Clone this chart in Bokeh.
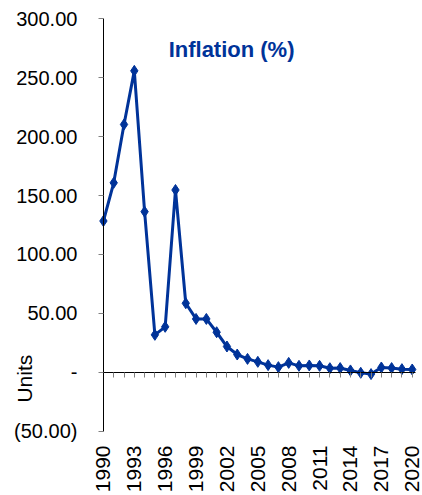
import math
from bokeh.plotting import figure
from bokeh.models import (LinearAxis, FixedTicker, NumeralTickFormatter, Label, Range1d)
from bokeh.embed import file_html
from bokeh.resources import INLINE

years = list(range(1990, 2021))
inflation = [128.4, 160.8, 210.3, 255.8, 136.3, 31.8, 38.6, 154.7, 58.6, 45.3,
             45.3, 34.0, 21.9, 15.1, 11.4, 8.9, 6.1, 4.4, 8.0, 5.5,
             5.8, 5.5, 3.5, 3.6, 1.6, -0.4, -1.5, 4.1, 3.6, 2.7, 2.4]
x_tick_years = [1990, 1993, 1996, 1999, 2002, 2005, 2008, 2011, 2014, 2017, 2020]
y_ticks = [-50, 0, 50, 100, 150, 200, 250, 300]
y_overrides = {0: "-", -50: "(50.00)"}
title_text = "Inflation (%)"
y_label_text = "Units"

BLUE = "#003399"
FONT = "Liberation Sans"

# the frame spans the whole width so that the y labels and "Units" live inside it
p = figure(width=422, height=495,
           x_range=Range1d(1980.0, 2021.0), y_range=Range1d(-60.4, 315.5),
           y_axis_location=None,
           output_backend="svg", toolbar_location=None,
           min_border_left=0, min_border_right=0, min_border_top=0, min_border_bottom=51)
p.outline_line_color = None
p.xgrid.visible = False
p.ygrid.visible = False
p.background_fill_color = "white"
p.border_fill_color = "white"

# y axis fixed at the first year
ya = LinearAxis(fixed_location=years[0], ticker=FixedTicker(ticks=y_ticks),
                formatter=NumeralTickFormatter(format="0.00"),
                bounds=(y_ticks[0], y_ticks[-1]))
ya.major_label_overrides = y_overrides
ya.major_tick_out = 5
ya.major_tick_in = 0
ya.major_tick_line_color = "#808080"
ya.minor_tick_line_color = None
ya.axis_line_color = "black"
ya.major_label_text_font = FONT
ya.major_label_text_font_size = "20px"
ya.major_label_text_color = "black"
ya.major_label_standoff = 21
p.add_layout(ya, "left")

# bottom axis: labels only
xa = p.xaxis[0]
xa.ticker = FixedTicker(ticks=x_tick_years)
xa.axis_line_color = None
xa.major_tick_line_color = None
xa.minor_tick_line_color = None
xa.major_tick_out = 0
xa.major_tick_in = 0
xa.minor_tick_out = 0
xa.minor_tick_in = 0
xa.axis_label_standoff = 0
xa.major_label_orientation = math.pi / 2
xa.major_label_text_font = FONT
xa.major_label_text_font_size = "21px"
xa.major_label_text_color = "black"
xa.major_label_standoff = 2

# zero line axis with yearly ticks (no labels)
za = LinearAxis(fixed_location=0, ticker=FixedTicker(ticks=years),
                bounds=(years[0], 2020.3))
za.major_label_text_color = None
za.major_label_standoff = 0
za.major_tick_in = 5
za.major_tick_out = 0
za.major_tick_line_color = "#808080"
za.minor_tick_line_color = None
za.axis_line_color = "black"
p.add_layout(za, "above")

p.line(years, inflation, line_color=BLUE, line_width=3)
p.scatter(years, inflation, marker="diamond", size=11, fill_color=BLUE, line_color=BLUE)

p.add_layout(Label(x=2002.45, y=274, text=title_text, text_font=FONT,
                   text_font_style="bold", text_font_size="22px", text_color=BLUE,
                   text_align="center", text_baseline="middle"))
p.add_layout(Label(x=1982.33, y=-5.4, text=y_label_text,
                   text_font=FONT, text_font_size="21px", text_color="black",
                   angle=math.pi / 2, text_align="center", text_baseline="middle"))

open("out.html", "w").write(file_html(p, INLINE))
